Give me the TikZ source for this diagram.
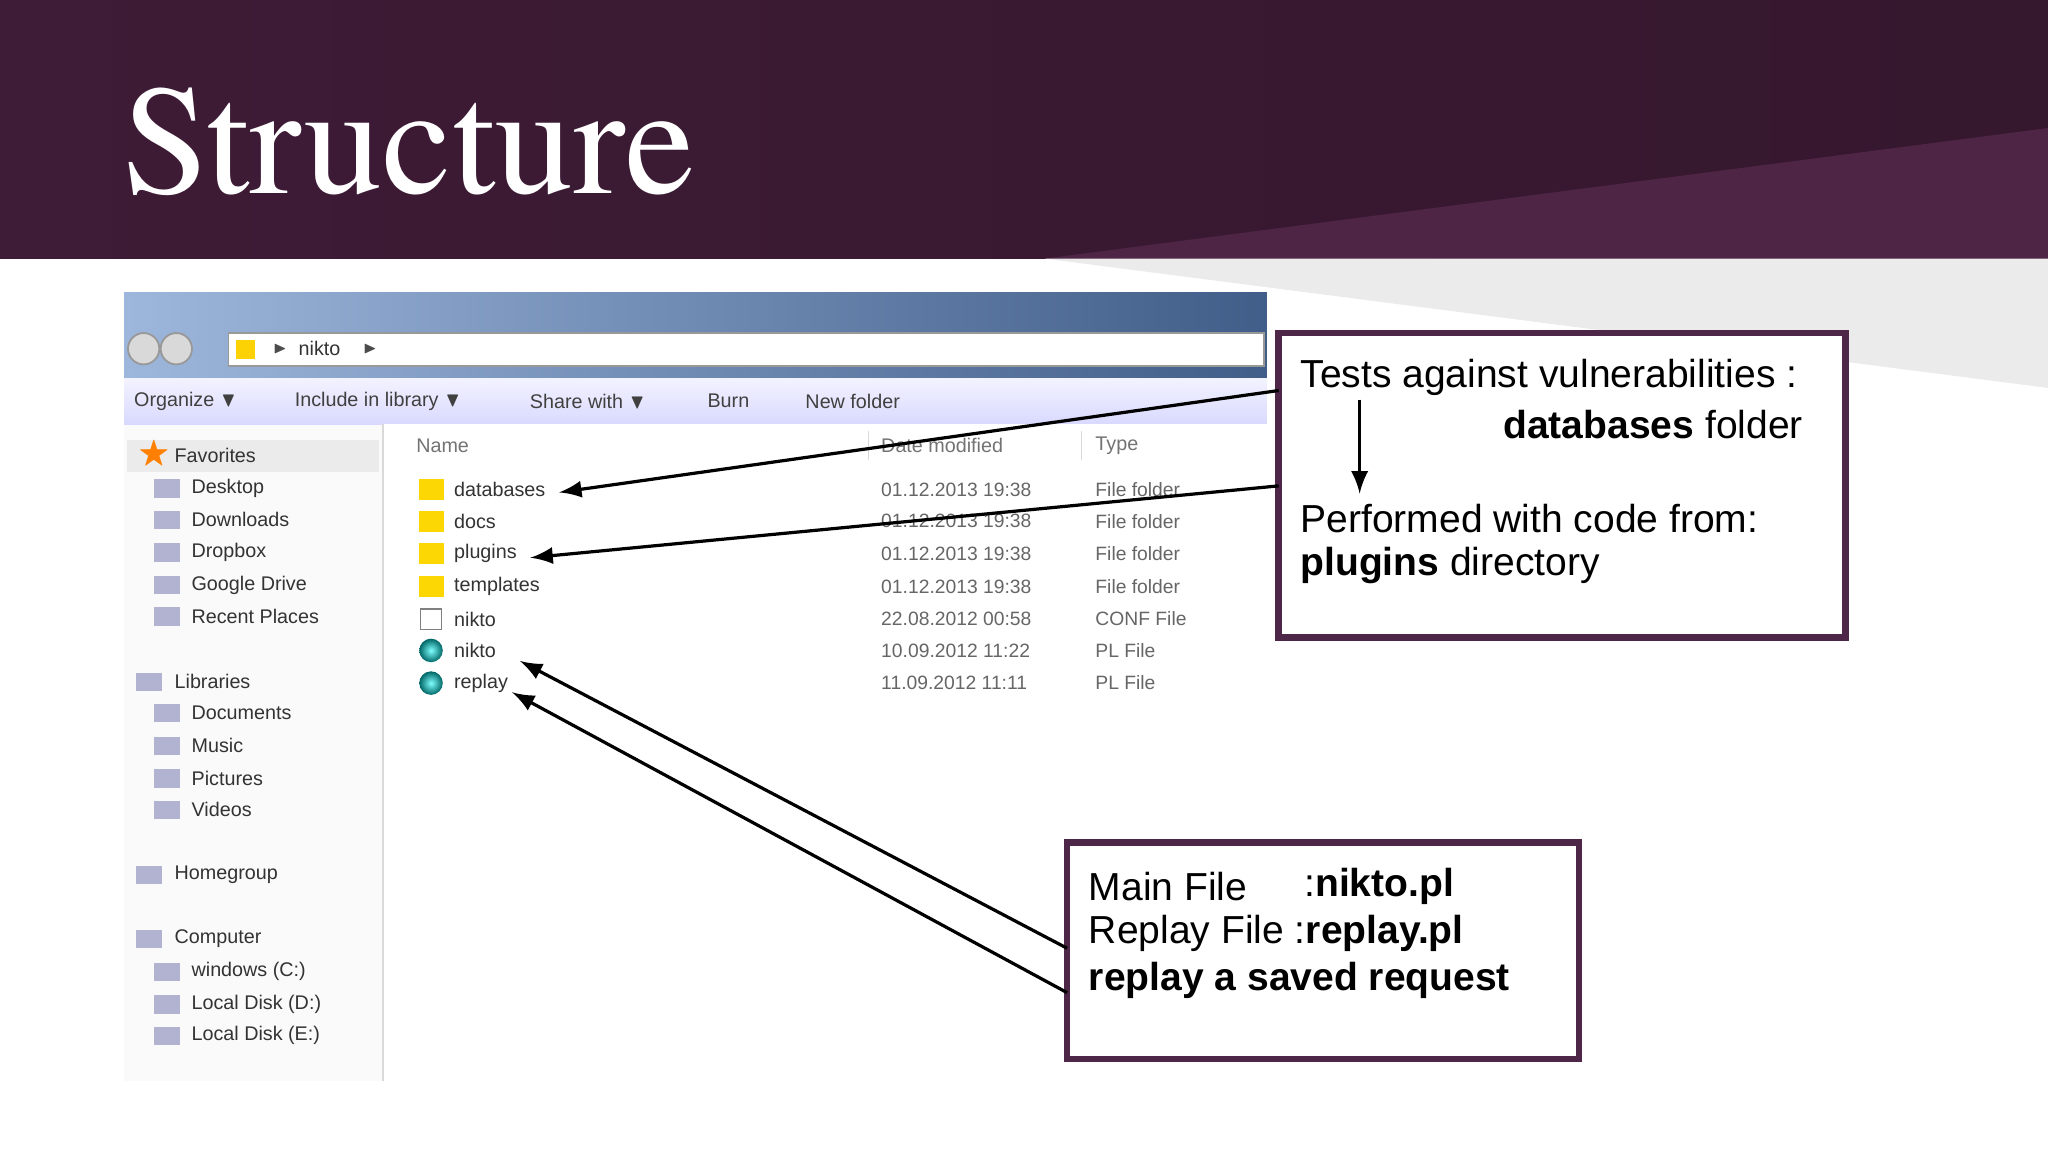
\documentclass[tikz,border=0pt]{standalone}
\usepackage{amssymb}
\usepackage{fontspec}
\setmainfont{Liberation Sans}
\newfontfamily\titlefont{TeX Gyre Termes}
\begin{document}
\begin{tikzpicture}[x=0.01cm,y=-0.01cm,
  ex/.style={anchor=west,inner sep=0,font=\fontsize{4.3}{5}\selectfont,text=black!80},
  hdr/.style={anchor=west,inner sep=0,font=\fontsize{4.3}{5}\selectfont,text=black!55},
  dt/.style={anchor=west,inner sep=0,font=\fontsize{4.2}{5}\selectfont,text=black!60},
  callout/.style={draw=boxpurple,line width=1.4pt,fill=white},
  ctext/.style={anchor=west,inner sep=0,font=\fontsize{8.5}{10}\selectfont},
  arr/.style={-latex,line width=0.7pt}]
\definecolor{band}{HTML}{3E1B36}
\definecolor{band2}{HTML}{5A2D50}
\definecolor{boxpurple}{HTML}{4E2748}
\definecolor{winblue}{HTML}{5C86C4}
\useasboundingbox (0,0) rectangle (1568,882);
\fill[white] (0,0) rectangle (1568,882);
% header band
\shade[left color=band, right color=band!85!black] (0,0) rectangle (1568,198);
\fill[band2!55!band] (800,198) -- (1568,98) -- (1568,198) -- cycle;
\fill[black!8] (800,198) -- (1568,198) -- (1568,297) -- cycle;
\node[anchor=base west,inner sep=0,text=white,font=\titlefont\fontsize{34}{34}\selectfont] (title) at (93,148) {Structure};
% explorer window
\fill[black!2] (95,224) rectangle (970,828);
\shade[left color=winblue!60!white, right color=winblue!70!black] (95,224) rectangle (970,290);
\fill[white,draw=black!40] (175,255) rectangle (968,280);
\node[ex] (addr) at (228,267) {nikto};
\node[ex,text=black!70] at (208,267) {\fontsize{3}{3}\selectfont$\blacktriangleright$};
\node[ex,text=black!70] at (277,267) {\fontsize{3}{3}\selectfont$\blacktriangleright$};
\fill[yellow!70!orange] (181,260) rectangle (195,275);
\draw[fill=black!15,draw=black!40] (110,267) circle (12);
\draw[fill=black!15,draw=black!40] (135,267) circle (12);
\shade[top color=blue!5, bottom color=blue!15] (95,290) rectangle (970,325);
\foreach \t/\x in {Organize $\blacktriangledown$/102, Include in library $\blacktriangledown$/225, Share with $\blacktriangledown$/405, Burn/541, New folder/616}
  \node[ex,text=black!75] at (\x,307) {\t};
\fill[white] (293,325) rectangle (970,828);
\draw[black!15] (293,325) -- (293,828);
% left pane
\fill[black!8] (97,337) rectangle (290,361);
\node[ex,text=orange] at (105,348) {\fontsize{7}{7}\selectfont$\bigstar$};
\foreach \t/\x/\y in {Favorites/133/349, Desktop/146/374, Downloads/146/398, Dropbox/146/423, Google Drive/146/448, Recent Places/146/472,
  Libraries/133/522, Documents/146/546, Music/146/571, Pictures/146/596, Videos/146/620, Homegroup/133/670, Computer/133/719,
  windows (C:)/146/744, Local Disk (D:)/146/769, Local Disk (E:)/146/793}
  \node[ex] at (\x,\y) {\t};
\foreach \y in {374,398,423,448,472,546,571,596,620,744,769,793}
  \fill[blue!40!black!30] (118,\y-7) rectangle (138,\y+7);
\foreach \y in {522,670,719}
  \fill[blue!40!black!30] (104,\y-7) rectangle (124,\y+7);
% headers
\node[hdr] at (318,341) {Name};
\node[hdr] at (674,341) {Date modified};
\node[hdr] at (838,341) {Type};
\draw[black!15] (665,330) -- (665,352) (828,330) -- (828,352);
% files
\foreach \n/\t/\y/\d/\ty in {fdb/databases/375/01.12.2013 19:38/File folder, fdocs/docs/399/01.12.2013 19:38/File folder,
  fplug/plugins/424/01.12.2013 19:38/File folder, ftpl/templates/449/01.12.2013 19:38/File folder,
  fconf/nikto/474/22.08.2012 00:58/CONF File, fnik/nikto/498/10.09.2012 11:22/PL File, frep/replay/523/11.09.2012 11:11/PL File}{
  \node[ex] (\n) at (347,\y) {\t};
  \node[dt] at (674,\y) {\d};
  \node[dt] at (838,\y) {\ty};}
\foreach \y in {375,399,424,449} \fill[yellow!75!orange] (321,\y-8) rectangle (340,\y+8);
\draw[fill=white,draw=black!50] (322,466) rectangle (338,482);
\foreach \y in {498,523} \shade[inner color=cyan!50, outer color=teal!80!black] (330,\y) circle (9);
% callouts
\draw[callout] (979,255) rectangle (1413,488);
\node[ctext] (t1) at (995,289) {Tests against vulnerabilities :};
\node[ctext,anchor=east] (t2) at (1381,325) {\textbf{databases} folder};
\node[ctext] (t3) at (995,397) {Performed with code from:};
\node[ctext] (t4) at (995,433) {\textbf{plugins} directory};
\coordinate (va) at (1041,306); \coordinate (vb) at (1041,378);
\draw[arr] (va) -- (vb);
\draw[callout] (817,645) rectangle (1209,811);
\node[ctext] (m1) at (833,679) {Main File};
\node[ctext] (m1b) at (998,679) {:\textbf{nikto.pl}};
\node[ctext] (m2) at (833,715) {Replay File :\textbf{replay.pl}};
\node[ctext] (m3) at (833,751) {\textbf{replay a saved request}};
% arrows
\coordinate (a1) at (979,299); \coordinate (a2) at (979,372);
\coordinate (a3) at (817,726); \coordinate (a4) at (817,760);
\coordinate (e1) at (428,377); \coordinate (e2) at (406,427);
\coordinate (e3) at (398,506); \coordinate (e4) at (392,530);
\draw[arr] (a1) -- (e1);
\draw[arr] (a2) -- (e2);
\draw[arr] (a3) -- (e3);
\draw[arr] (a4) -- (e4);
\end{tikzpicture}
\end{document}
